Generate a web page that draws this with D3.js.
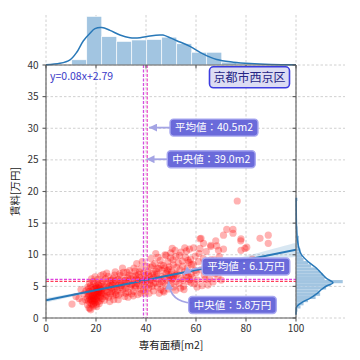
<!DOCTYPE html>
<html><head><meta charset="utf-8">
<script src="https://d3js.org/d3.v7.min.js"></script>
<style>
body { margin: 0; background: #fff; }
text { font-family: "Noto Sans CJK JP", "DejaVu Sans", sans-serif; }
</style>
</head><body>
<svg id="chart" width="360" height="360"></svg>
<script>
// scatter: [専有面積, 賃料]
const points = [
  [10.4,2.2],[12.0,3.4],[13.2,3.1],[14.0,4.5],[14.5,2.6],[15.2,3.8],[15.8,2.9],[16.0,4.3],
  [16.5,3.2],[16.6,2.1],[16.8,3.9],[16.9,4.6],[17.0,2.7],[17.1,3.5],[17.2,1.6],[17.3,4.2],[17.5,3.0],[17.6,2.4],
  [17.7,3.7],[17.8,5.1],[17.9,1.3],[18.0,2.9],[18.1,3.4],[18.2,4.0],[18.3,2.2],[18.4,4.8],[18.5,3.1],[18.6,3.6],
  [18.7,2.6],[18.8,4.4],[18.9,1.9],[19.0,3.3],[19.1,5.4],[19.2,2.8],[19.3,3.9],[19.4,4.6],[19.5,2.4],[19.6,3.5],
  [19.7,4.1],[19.8,3.0],[19.9,5.0],[20.0,2.1],[20.1,3.7],[20.2,4.3],[20.3,2.9],[20.4,4.9],[20.5,3.4],[20.6,5.6],
  [20.7,3.9],[20.8,2.6],[20.9,4.5],[21.0,3.2],[21.1,5.2],[21.2,4.0],[21.4,3.6],[21.5,4.7],[21.6,2.7],[21.7,5.0],
  [21.8,4.2],[21.9,3.4],[22.0,5.5],[22.1,4.4],[22.2,3.8],
  [16.7,4.9],[17.4,5.6],[18.2,6.2],[19.0,2.2],[19.6,6.5],[20.3,1.8],[20.9,6.1],[21.3,2.3],[21.9,6.7],[17.6,1.5],
  [18.8,5.8],[20.0,4.7],[21.0,4.1],[19.3,3.1],[18.5,2.7],
  [22.4,3.1],[22.6,4.6],[22.8,5.8],[23.0,3.9],[23.2,5.1],[23.4,2.8],[23.6,4.3],[23.8,6.2],[24.0,4.9],[24.2,3.6],
  [24.4,5.5],[24.6,4.1],[24.8,6.6],[25.0,3.3],[25.2,5.0],[25.4,4.5],[25.6,5.9],[25.8,3.8],[26.0,4.8],[26.2,6.0],
  [26.4,4.2],[26.6,5.3],[26.8,3.5],[27.0,5.7],[27.2,4.6],[27.4,6.8],[27.6,4.0],[27.8,5.2],[28.0,3.7],[28.1,5.9],
  [28.2,4.9],[27.1,2.9],[22.9,6.9],[24.3,7.1],[25.5,2.6],[26.9,6.3],[23.7,3.4],[25.9,5.4],[27.7,7.3],
  [28.5,4.4],[28.8,6.1],[29.0,3.6],[29.3,5.4],[29.6,4.8],[29.9,6.7],[30.1,3.9],[30.4,5.6],[30.7,4.5],[31.0,7.2],
  [31.2,5.0],[31.5,3.4],[31.8,6.0],[32.0,4.7],[32.3,5.5],[32.6,6.4],[32.9,4.1],[33.1,5.8],[33.4,7.5],[33.6,4.9],
  [33.9,6.2],[34.1,5.2],[34.2,3.8],[30.0,5.1],[31.6,5.9],[32.8,3.3],[29.5,7.0],
  [28.9,2.9],[30.6,7.9],[31.9,3.9],[33.3,6.8],[29.8,5.9],[32.4,7.2],
  [34.5,5.3],[34.8,6.6],[35.0,4.2],[35.3,5.9],[35.6,7.4],[35.9,4.8],[36.1,6.2],[36.4,5.5],[36.7,3.7],[37.0,6.9],
  [37.2,5.1],[37.5,6.4],[37.8,4.6],[38.0,7.8],[38.3,5.7],[38.6,6.1],[38.9,4.4],[39.1,7.1],[39.4,5.4],[39.7,6.7],
  [40.0,4.9],[40.2,8.2],[35.2,7.9],[36.8,5.9],[37.9,3.9],[39.0,6.0],[39.9,5.8],[36.0,6.8],
  [34.9,3.5],[36.3,8.6],[38.5,8.9],[39.6,3.9],[37.4,7.3],[35.7,5.1],
  [40.5,6.0],[40.8,7.3],[41.0,4.7],[41.3,6.6],[41.6,5.3],[41.9,8.0],[42.1,6.1],[42.4,5.0],[42.7,7.0],[43.0,4.3],
  [43.2,6.4],[43.5,8.6],[43.8,5.6],[44.0,7.4],[44.3,6.9],[44.6,4.9],[44.9,6.2],[45.1,7.8],[45.4,5.4],[45.7,9.1],
  [46.0,6.6],[46.2,5.8],[42.0,9.4],[43.9,10.2],[41.4,5.9],[45.9,4.5],[44.5,7.9],[42.9,5.5],[40.9,6.9],
  [41.2,3.9],[42.6,8.3],[44.8,9.6],[45.3,3.9],[43.4,7.0],[46.1,8.4],
  [46.5,7.5],[46.8,5.6],[47.0,8.3],[47.3,6.4],[47.6,10.0],[47.9,5.1],[48.1,7.1],[48.4,6.0],[48.7,8.9],[49.0,4.6],
  [49.2,7.7],[49.5,6.6],[49.8,9.5],[50.0,5.4],[50.3,7.3],[50.6,6.2],[50.9,8.4],[51.1,4.9],[51.4,7.0],[51.6,10.7],
  [51.9,6.8],[52.1,5.8],[52.2,8.0],[48.0,9.9],[46.9,4.3],[49.6,5.9],[50.5,11.0],[51.0,6.5],[47.5,7.9],[49.3,8.1],
  [48.9,6.9],[50.8,9.2],[47.2,4.1],[49.9,10.3],[51.8,4.4],[48.6,7.5],[50.2,6.3],[52.0,9.7],
  [52.5,6.9],[52.9,8.7],[53.2,5.5],[53.6,7.6],[54.0,10.4],[54.3,6.3],[54.7,8.2],[55.0,5.0],[55.4,7.3],[55.8,9.6],
  [56.0,6.7],[56.2,10.6],[56.5,7.9],[56.9,5.8],[57.2,8.8],[57.5,6.1],[57.8,9.3],[58.1,7.0],[53.8,4.7],[55.5,11.1],
  [56.6,7.2],[54.5,9.0],[57.0,6.5],[58.0,5.6],[53.4,9.9],[55.2,4.5],[57.4,10.9],[58.2,8.4],[54.8,6.0],[56.8,9.1],
  [58.5,6.4],[58.9,8.5],[59.3,5.4],[59.7,9.8],[60.1,7.2],[60.6,6.0],[61.0,8.9],[61.6,12.5],[62.0,7.6],[62.4,5.1],
  [62.9,9.4],[63.3,6.8],[63.8,8.1],[64.1,10.5],[59.0,11.1],[60.4,4.9],[61.3,10.2],[63.0,11.8],[62.0,12.6],[61.6,11.0],
  [59.6,7.5],[63.6,6.1],
  [64.5,7.3],[64.9,9.0],[65.4,6.2],[65.9,11.5],[66.3,8.4],[66.8,5.7],[67.2,9.2],[67.6,7.0],[68.0,8.8],[68.3,11.4],
  [68.8,6.5],[69.3,9.7],[69.8,7.8],[70.1,6.0],[65.9,11.3],[66.0,9.2],[69.0,10.7],[64.8,5.2],[67.9,12.2],
  [71.0,10.9],[71.0,13.1],[72.3,14.0],[74.8,14.0],[74.8,13.4],[76.5,18.5],[78.0,12.5],[77.9,12.2],[78.0,10.7],
  [79.6,11.0],[80.3,11.2],[85.6,12.6],[88.9,13.1],[88.9,11.8],[72.5,8.6],[75.8,7.9],[82.5,9.3]
];

// 上: 専有面積ヒストグラム
const areaEdges = [10.3,16.3,22.3,28.3,34.3,40.3,46.3,52.3,58.3,64.3,70.3,76.3,82.3,88.3,94.3,100.3];
const areaCounts = [11,103,60,50,53,54,59,45,27,27,6,2,1,1,1];
const areaKde = [[0,0.5],[5.6,3.5],[9.6,11],[12.3,27],[14.9,51],[17.6,67.5],[19.6,77],[22.3,79.5],[25.6,73.5],
  [29.6,63.5],[33.6,58],[37.6,58],[41.6,61.3],[45.6,63.5],[46.8,63.5],[52.3,51.5],[57.6,39.5],[62.8,23.5],
  [68.3,11.5],[74.9,6],[81.6,3],[90,1.2],[100,0.6]];

// 右: 賃料ヒストグラム
const rentEdges = [1.0,1.5,2.0,2.5,3.0,3.5,4.0,4.5,5.0,5.5,6.0,6.5,7.0,7.5,8.0,8.5,9.0,9.5,10.0,10.5,11.0,11.5,
  12.0,12.5,13.0,13.5,14.0,14.5,15.0,15.5,16.0,16.5,17.0,17.5,18.0,18.5,19.0];
const rentCounts = [1,3,5,8,13,16,15,20,23,31,19,18,16,14,10,8,5,4,3,3,2,2,2,2,1,1,1,0,0,0,0,0,0,0,0,1];
const rentKde = [[0.5,0],[1.2,0.1],[1.8,0.5],[2.6,4.8],[3.1,9.2],[3.8,13.6],[4.5,16.9],[5.06,20.2],[5.58,24.5],
  [6.27,20.2],[7.06,16.9],[8.1,12.5],[8.9,8.1],[9.95,3.8],[10.5,2.6],[12.3,0.9],[14,0.4],[16,0.2],[19,0.1]];

// 回帰直線 y=0.08x+2.79 と信頼区間の幅
const slope = 0.08, intercept = 2.79;
const bandX = [0,20,40,60,80,100];
const bandHalf = [0.35,0.15,0.1,0.2,0.6,1.1];

const meanArea = 40.5, medianArea = 39.0, meanRent = 6.1, medianRent = 5.8;
const xTicks = [0,20,40,60,80,100];
const yTicks = [0,5,10,15,20,25,30,35,40];

const svg = d3.select("#chart");
const x = d3.scaleLinear().domain([0,100]).range([46,296]);
const y = d3.scaleLinear().domain([0,40]).range([318,65]);
const topY = d3.scaleLinear().domain([0,106]).range([65,15]);
const rightX = d3.scaleLinear().domain([0,32.5]).range([296,345]);

const defs = svg.append("defs");
defs.append("clipPath").attr("id","mainClip").append("rect")
  .attr("x",46).attr("y",65).attr("width",250).attr("height",253);
defs.append("marker").attr("id","head").attr("viewBox","0 0 10 10")
  .attr("refX",10).attr("refY",5).attr("markerWidth",9).attr("markerHeight",8)
  .attr("markerUnits","userSpaceOnUse").attr("orient","auto")
  .append("path").attr("d","M0,0L10,5L0,10z").attr("fill","#a4a4e4");

//grid
const grid = svg.append("g").attr("stroke","#c4c4c4").attr("stroke-width",0.8).attr("stroke-dasharray","2.5,2");
grid.selectAll("line.gx").data(xTicks).join("line").attr("class","gx")
  .attr("x1",d=>x(d)).attr("x2",d=>x(d)).attr("y1",15).attr("y2",318);
grid.selectAll("line.gy").data(yTicks).join("line").attr("class","gy")
  .attr("x1",46).attr("x2",345).attr("y1",d=>y(d)).attr("y2",d=>y(d));

//marginal histograms
const barFill = "#a2c5e1";
svg.append("g").selectAll("rect").data(areaCounts).join("rect")
  .attr("x",(d,i)=>x(areaEdges[i])).attr("width",(d,i)=>x(areaEdges[i+1])-x(areaEdges[i]))
  .attr("y",d=>topY(d)).attr("height",d=>65-topY(d))
  .attr("fill",barFill).attr("stroke","#fff").attr("stroke-width",0.6);
svg.append("path").datum(areaKde)
  .attr("d",d3.line().x(d=>x(d[0])).y(d=>topY(d[1])).curve(d3.curveCatmullRom))
  .attr("fill","none").attr("stroke","#2878b8").attr("stroke-width",1.5);

svg.append("g").selectAll("rect").data(rentCounts).join("rect")
  .attr("x",296).attr("width",d=>rightX(d)-296)
  .attr("y",(d,i)=>y(rentEdges[i+1])).attr("height",(d,i)=>y(rentEdges[i])-y(rentEdges[i+1]))
  .attr("fill",barFill);
svg.append("path").datum(rentKde)
  .attr("d",d3.line().x(d=>rightX(d[1])).y(d=>y(d[0])).curve(d3.curveCatmullRom))
  .attr("fill","none").attr("stroke","#2878b8").attr("stroke-width",1.5);

//scatter
const plot = svg.append("g").attr("clip-path","url(#mainClip)");
plot.selectAll("circle").data(points).join("circle")
  .attr("cx",d=>x(d[0])).attr("cy",d=>y(d[1])).attr("r",3.6)
  .attr("fill","#ff0000").attr("fill-opacity",0.3);

//regression
const band = bandX.map((v,i)=>[v, slope*v+intercept-bandHalf[i], slope*v+intercept+bandHalf[i]]);
plot.append("path").datum(band)
  .attr("d",d3.area().x(d=>x(d[0])).y0(d=>y(d[1])).y1(d=>y(d[2])).curve(d3.curveCatmullRom))
  .attr("fill","#2878b8").attr("fill-opacity",0.18);
plot.append("line").attr("x1",x(0)).attr("x2",x(100))
  .attr("y1",y(intercept)).attr("y2",y(slope*100+intercept))
  .attr("stroke","#2878b8").attr("stroke-width",2);

//mean / median
const refLines = [
  {v: medianArea, dir: "v", c: "#d24ee0"},
  {v: meanArea, dir: "v", c: "#ee55cc"},
  {v: meanRent, dir: "h", c: "#dd44dd"},
  {v: medianRent, dir: "h", c: "#ff3c5a"}
];
refLines.forEach(r => {
  const l = svg.append("line").attr("stroke",r.c).attr("stroke-width",1.3).attr("stroke-dasharray","3,1.5");
  if (r.dir==="v") l.attr("x1",x(r.v)).attr("x2",x(r.v)).attr("y1",65).attr("y2",318);
  else l.attr("x1",46).attr("x2",296).attr("y1",y(r.v)).attr("y2",y(r.v));
});

//spines and ticks
const ax = svg.append("g").attr("stroke","#5a5a5a").attr("stroke-width",1.1);
ax.append("line").attr("x1",46).attr("x2",46).attr("y1",65).attr("y2",318);
ax.append("line").attr("x1",46).attr("x2",296).attr("y1",318).attr("y2",318);
ax.append("line").attr("x1",46).attr("x2",296).attr("y1",65).attr("y2",65);
ax.append("line").attr("x1",296).attr("x2",296).attr("y1",65).attr("y2",318);
ax.selectAll("line.ty").data(yTicks).join("line").attr("class","ty")
  .attr("x1",42.5).attr("x2",46).attr("y1",d=>y(d)).attr("y2",d=>y(d));
ax.selectAll("line.ty2").data(yTicks).join("line").attr("class","ty2")
  .attr("x1",292.5).attr("x2",296).attr("y1",d=>y(d)).attr("y2",d=>y(d));
ax.selectAll("line.tx").data(xTicks).join("line").attr("class","tx")
  .attr("x1",d=>x(d)).attr("x2",d=>x(d)).attr("y1",318).attr("y2",321.5);
ax.selectAll("line.tx2").data(xTicks).join("line").attr("class","tx2")
  .attr("x1",d=>x(d)).attr("x2",d=>x(d)).attr("y1",65).attr("y2",68.5);

svg.append("g").selectAll("text").data(yTicks).join("text")
  .attr("x",38.5).attr("y",d=>y(d)).attr("dy","0.35em").attr("text-anchor","end")
  .attr("font-size",10).attr("fill","#333").text(d=>d);
svg.append("g").selectAll("text").data(xTicks).join("text")
  .attr("x",d=>x(d)).attr("y",332).attr("text-anchor","middle")
  .attr("font-size",10).attr("fill","#333").text(d=>d);
svg.append("text").attr("x",171).attr("y",349).attr("text-anchor","middle")
  .attr("font-size",10.5).attr("fill","#222").text("専有面積[m2]");
svg.append("text").attr("transform","translate(19,191.5) rotate(-90)").attr("text-anchor","middle")
  .attr("font-size",10.5).attr("fill","#222").text("賃料[万円]");

//equation and area name
svg.append("text").attr("x",50).attr("y",80).attr("font-size",10.5).attr("fill","#3b3bc8")
  .text("y=" + slope + "x+" + intercept);
const nameG = svg.append("g");
nameG.append("rect").attr("x",209.5).attr("y",66.8).attr("width",80).attr("height",21).attr("rx",4)
  .attr("fill","#dcdcf3").attr("stroke","#3c3ce0").attr("stroke-width",1.6);
nameG.append("text").attr("x",249.5).attr("y",77.5).attr("dy","0.36em").attr("text-anchor","middle")
  .attr("font-size",12).attr("fill","#252585").text("京都市西京区");

//annotations
const notes = [
  {t: "平均値：" + meanArea.toFixed(1) + "m2", cx: x(67.2), cy: y(30.1),
   arrow: [[172, y(30.1)], null, [149, y(30.1)]]},
  {t: "中央値：" + medianArea.toFixed(1) + "m2", cx: x(66.1), cy: y(25.1),
   arrow: [[168, y(25.1)], null, [146.5, y(25.1)]]},
  {t: "平均値：" + meanRent.toFixed(1) + "万円", cx: 246, cy: 266.5,
   arrow: [[205, 268], [193, 267], [183, 274.5]]},
  {t: "中央値：" + medianRent.toFixed(1) + "万円", cx: 232.5, cy: 305,
   arrow: [[192, 303], [170, 302], [168.5, 281.5]]}
];
notes.forEach(n => {
  const a = n.arrow;
  const p = d3.path();
  p.moveTo(a[0][0], a[0][1]);
  if (a[1]) p.quadraticCurveTo(a[1][0], a[1][1], a[2][0], a[2][1]);
  else p.lineTo(a[2][0], a[2][1]);
  svg.append("path").attr("d",p.toString()).attr("fill","none")
    .attr("stroke","#a4a4e4").attr("stroke-width",1.8).attr("marker-end","url(#head)");
  const g = svg.append("g");
  const rect = g.append("rect");
  const txt = g.append("text").attr("x",n.cx).attr("y",n.cy).attr("dy","0.36em")
    .attr("text-anchor","middle").attr("font-size",10.5).attr("fill","#fff").text(n.t);
  const w = txt.node().getComputedTextLength() + 10;
  rect.attr("x",n.cx-w/2).attr("y",n.cy-8.5).attr("width",w).attr("height",17).attr("rx",3.5)
    .attr("fill","#6262d8").attr("fill-opacity",0.95).attr("stroke","#a8a8f0").attr("stroke-width",1.4);
});
</script>
</body></html>
